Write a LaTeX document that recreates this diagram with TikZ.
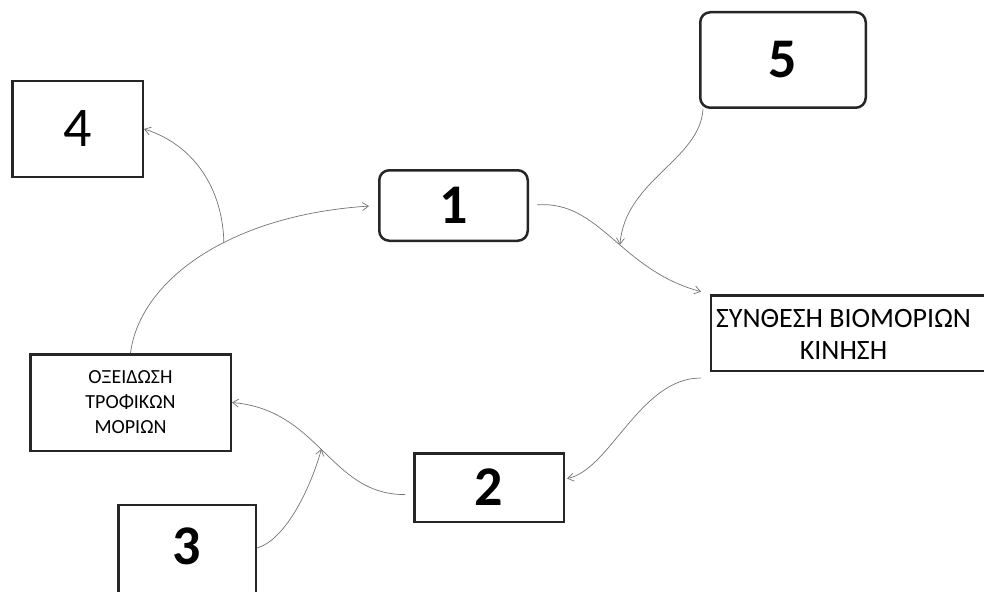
\documentclass[tikz,border=0pt]{standalone}
\usepackage{fontspec}
\setmainfont{Carlito}
\usetikzlibrary{arrows.meta}
\begin{document}
\begin{tikzpicture}[x=1pt,y=-1pt,
  box/.style={draw=black!85,line width=2.5pt,inner sep=0pt,align=center},
  rbox/.style={box,rounded corners=10pt},
  bignum/.style={font=\fontsize{56}{56}\selectfont\bfseries},
  regnum/.style={font=\fontsize{56}{56}\selectfont},
  conn/.style={draw=black!55,line width=0.7pt,-{Straight Barb[length=6pt,width=8pt]}}]
\useasboundingbox (0,0) rectangle (984,591);
\clip (0,0) rectangle (984,591);

% boxes
\node[box,regnum,minimum width=130.5,minimum height=95.5] (b4) at (77.5,129) {4};
\node[rbox,bignum,minimum width=148.5,minimum height=70.5] (b1) at (453.5,205.5) {1};
\node[rbox,bignum,minimum width=165.5,minimum height=95.5] (b5) at (783,60) {5};
\node[box,minimum width=282,minimum height=75.5] (syn) at (852,333) {};
\node[font=\fontsize{28}{32}\selectfont,align=center,inner sep=0pt] (synt) at (843.5,334) {ΣΥΝΘΕΣΗ ΒΙΟΜΟΡΙΩΝ\\ΚΙΝΗΣΗ};
\node[box,font=\fontsize{20}{25}\selectfont,minimum width=200.5,minimum height=96.5] (oxy) at (130.5,402.5) {ΟΞΕΙΔΩΣΗ\\ΤΡΟΦΙΚΩΝ\\ΜΟΡΙΩΝ};
\node[box,bignum,minimum width=149.5,minimum height=68.5] (b2) at (489,487.5) {2};
\node[box,minimum width=137.5,minimum height=110] (b3) at (187,560) {};
\node[bignum,inner sep=0pt] (b3t) at (187,546) {3};

% connectors
\draw[conn,shorten >=9pt] (oxy.north) .. controls (140,280) and (230,215) .. (b1.west)
  coordinate[pos=0.58] (j1);
\draw[conn] (j1) .. controls (223,190) and (195,145) .. (b4.east);
\draw[conn,shorten <=8pt,shorten >=9pt] (b1.east) .. controls (600,200) and (620,270) .. (syn.north west)
  coordinate[pos=0.55] (j3);
\draw[conn] ([xshift=4pt]b5.south west) .. controls (700,160) and (625,180) .. (j3);
\draw[conn] ([xshift=-9pt,yshift=-6pt]syn.south west) .. controls (640,378) and (610,470) .. ([xshift=2pt,yshift=9pt]b2.east);
\draw[conn,shorten <=8pt] ([yshift=-7pt]b2.west) .. controls (330,495) and (320,410) .. (oxy.east)
  coordinate[pos=0.52] (j6);
\draw[conn] (b3.east |- 0,548) .. controls (285,540) and (310,490) .. (j6);
\end{tikzpicture}
\end{document}
